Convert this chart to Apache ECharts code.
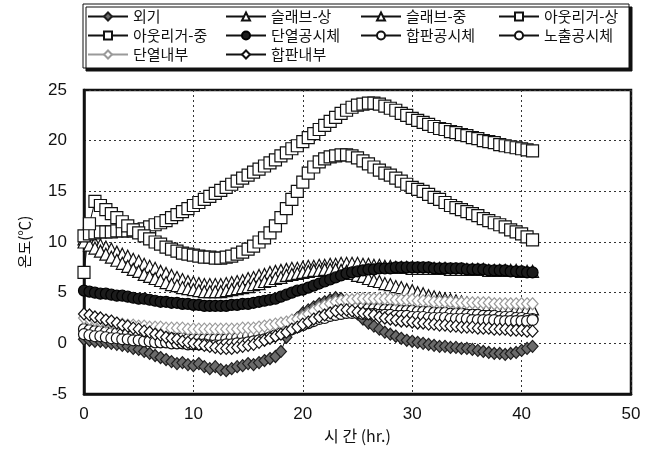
<!DOCTYPE html>
<html><head><meta charset="utf-8">
<script src="https://cdn.jsdelivr.net/npm/echarts@6/dist/echarts.min.js"></script>
<style>html,body{margin:0;padding:0;background:#fff}#c{width:656px;height:459px}</style>
</head><body><div id="c"></div>
<script>
const hours = [0,0.5,1,1.5,2,2.5,3,3.5,4,4.5,5,5.5,6,6.5,7,7.5,8,8.5,9,9.5,
  10,10.5,11,11.5,12,12.5,13,13.5,14,14.5,15,15.5,16,16.5,17,17.5,18,18.5,19,19.5,
  20,20.5,21,21.5,22,22.5,23,23.5,24,24.5,25,25.5,26,26.5,27,27.5,28,28.5,29,29.5,
  30,30.5,31,31.5,32,32.5,33,33.5,34,34.5,35,35.5,36,36.5,37,37.5,38,38.5,39,39.5,
  40,40.5,41];
const seriesNames = ['외기','슬래브-상','슬래브-중','아웃리거-상','아웃리거-중','단열공시체','합판공시체','노출공시체','단열내부','합판내부'];
const outdoor = [0.4,0.3,0.2,0.2,0.1,0.0,-0.1,-0.2,-0.3,-0.5,-0.6,-0.8,-1.0,-1.2,-1.4,-1.6,-1.8,-2.0,-1.9,-2.1,
  -2.2,-2.0,-2.3,-2.5,-2.3,-2.6,-2.7,-2.5,-2.3,-2.2,-2.0,-2.1,-1.9,-1.7,-1.5,-1.3,-0.8,0.6,1.8,2.5,
  3.0,3.3,3.6,3.9,4.1,4.3,4.5,4.4,4.1,3.5,2.9,2.4,2.0,1.7,1.4,1.1,0.9,0.7,0.5,0.3,
  0.2,0.1,0.0,-0.1,-0.2,-0.3,-0.3,-0.4,-0.4,-0.5,-0.5,-0.6,-0.7,-0.8,-0.9,-1.0,-1.0,-1.1,-1.0,-0.9,
  -0.7,-0.5,-0.3];
const slabTop = [10.3,10.1,9.9,9.7,9.5,9.3,9.0,8.8,8.6,8.3,8.1,7.8,7.6,7.4,7.1,6.9,6.7,6.5,6.3,6.1,
  6.0,5.9,5.8,5.8,5.8,5.8,5.9,6.0,6.1,6.2,6.4,6.5,6.7,6.8,7.0,7.1,7.2,7.3,7.4,7.4,
  7.5,7.6,7.6,7.7,7.7,7.8,7.8,7.9,7.9,7.9,7.9,7.8,7.8,7.7,7.7,7.6,7.6,7.5,7.5,7.5,
  7.4,7.4,7.4,7.4,7.4,7.4,7.4,7.3,7.3,7.3,7.3,7.3,7.3,7.3,7.2,7.2,7.2,7.2,7.2,7.2,
  7.1,7.1,7.1];
const slabMid = [10.0,9.7,9.4,9.1,8.8,8.5,8.2,7.9,7.6,7.3,7.1,6.8,6.6,6.4,6.2,6.0,5.8,5.7,5.5,5.4,
  5.3,5.2,5.1,5.1,5.1,5.1,5.2,5.3,5.4,5.5,5.6,5.8,5.9,6.1,6.2,6.4,6.5,6.7,6.8,6.9,
  7.0,7.1,7.2,7.2,7.3,7.3,7.3,7.2,7.1,6.9,6.7,6.6,6.4,6.2,6.1,5.9,5.8,5.6,5.5,5.3,
  5.2,5.0,4.9,4.7,4.6,4.5,4.4,4.3,4.2,4.1,4.0,3.9,3.9,3.8,3.8,3.7,3.7,3.6,3.6,3.5,
  3.5,3.5,3.4];
const outTop = [10.6,10.8,10.9,11.0,11.0,11.0,11.1,11.1,11.1,11.1,11.2,11.3,11.5,11.7,11.9,12.1,12.4,12.7,13.0,13.3,
  13.6,13.9,14.2,14.5,14.8,15.1,15.4,15.7,16.0,16.3,16.6,16.9,17.2,17.5,17.8,18.1,18.5,18.8,19.2,19.5,
  19.9,20.3,20.7,21.1,21.5,21.9,22.3,22.7,23.0,23.3,23.5,23.6,23.7,23.7,23.6,23.4,23.2,23.0,22.7,22.5,
  22.2,22.0,21.8,21.6,21.4,21.2,21.1,20.9,20.8,20.6,20.5,20.3,20.2,20.0,19.9,19.8,19.6,19.5,19.4,19.3,
  19.2,19.1,19.0];
const outMid = [7.0,11.8,14.0,13.6,13.2,12.8,12.4,12.0,11.6,11.2,10.9,10.6,10.3,10.0,9.8,9.5,9.3,9.1,8.9,8.8,
  8.7,8.6,8.5,8.5,8.4,8.4,8.5,8.6,8.8,9.0,9.3,9.6,10.0,10.4,10.9,11.6,12.4,13.3,14.2,15.0,
  15.9,16.8,17.4,17.9,18.2,18.4,18.5,18.6,18.6,18.5,18.3,18.0,17.7,17.4,17.1,16.8,16.6,16.3,16.0,15.7,
  15.4,15.2,15.0,14.7,14.4,14.2,13.9,13.6,13.4,13.2,13.0,12.8,12.6,12.3,12.1,11.9,11.7,11.5,11.2,11.0,
  10.8,10.5,10.2];
const insSpec = [5.2,5.1,5.0,4.9,4.9,4.8,4.7,4.7,4.6,4.5,4.4,4.4,4.3,4.2,4.1,4.1,4.0,4.0,3.9,3.9,
  3.8,3.8,3.7,3.7,3.7,3.7,3.7,3.8,3.8,3.9,3.9,4.0,4.1,4.2,4.3,4.4,4.6,4.8,5.0,5.2,
  5.3,5.5,5.7,5.9,6.1,6.3,6.5,6.7,6.9,7.0,7.1,7.2,7.3,7.3,7.4,7.4,7.4,7.5,7.5,7.5,
  7.5,7.5,7.5,7.5,7.4,7.4,7.4,7.4,7.4,7.4,7.3,7.3,7.3,7.3,7.2,7.2,7.2,7.2,7.1,7.1,
  7.1,7.0,7.0];
const plySpec = [1.4,1.3,1.2,1.2,1.1,1.0,1.0,0.9,0.9,0.8,0.8,0.7,0.7,0.6,0.6,0.6,0.5,0.5,0.5,0.4,
  0.4,0.4,0.4,0.4,0.4,0.4,0.4,0.5,0.5,0.6,0.7,0.8,0.9,1.0,1.2,1.4,1.6,1.8,2.0,2.2,
  2.4,2.6,2.8,2.9,3.1,3.2,3.3,3.4,3.5,3.5,3.5,3.5,3.4,3.4,3.4,3.3,3.3,3.3,3.2,3.2,
  3.2,3.1,3.1,3.1,3.0,3.0,3.0,2.9,2.9,2.9,2.8,2.8,2.8,2.7,2.7,2.7,2.6,2.6,2.6,2.5,
  2.5,2.4,2.4];
const expSpec = [0.9,0.8,0.7,0.7,0.6,0.5,0.5,0.4,0.4,0.3,0.3,0.2,0.2,0.1,0.1,0.1,0.0,0.0,0.0,-0.1,
  -0.1,-0.1,-0.1,-0.2,-0.2,-0.2,-0.1,-0.1,0.0,0.0,0.1,0.2,0.3,0.4,0.6,0.8,1.0,1.2,1.4,1.6,
  1.8,2.0,2.2,2.4,2.5,2.7,2.8,2.9,3.0,3.0,3.0,2.9,2.9,2.9,2.8,2.8,2.8,2.7,2.7,2.7,
  2.6,2.6,2.6,2.5,2.5,2.5,2.5,2.4,2.4,2.4,2.4,2.3,2.3,2.3,2.3,2.3,2.2,2.2,2.2,2.2,
  2.2,2.2,2.3];
const insIn = [2.5,2.4,2.3,2.2,2.1,2.0,1.9,1.9,1.8,1.8,1.7,1.7,1.6,1.6,1.6,1.5,1.5,1.5,1.5,1.4,
  1.4,1.4,1.4,1.4,1.4,1.4,1.4,1.4,1.4,1.5,1.5,1.5,1.6,1.7,1.8,1.9,2.0,2.1,2.3,2.4,
  2.6,2.9,3.2,3.5,3.7,3.9,4.1,4.2,4.3,4.3,4.4,4.4,4.4,4.4,4.4,4.4,4.4,4.3,4.3,4.3,
  4.3,4.2,4.2,4.2,4.1,4.1,4.1,4.1,4.0,4.0,4.0,4.0,4.0,4.0,4.0,3.9,3.9,3.9,3.9,3.9,
  3.9,3.9,3.9];
const plyIn = [2.9,2.8,2.6,2.5,2.3,2.2,2.0,1.8,1.7,1.5,1.4,1.2,1.1,0.9,0.8,0.6,0.5,0.4,0.2,0.1,
  0.0,-0.1,-0.2,-0.3,-0.4,-0.5,-0.5,-0.5,-0.4,-0.3,-0.2,-0.1,0.1,0.3,0.5,0.7,0.9,1.1,1.4,1.6,
  1.9,2.1,2.4,2.6,2.8,3.0,3.2,3.3,3.3,3.2,3.1,3.0,2.9,2.8,2.6,2.5,2.4,2.3,2.2,2.2,
  2.1,2.0,2.0,1.9,1.9,1.8,1.8,1.7,1.7,1.6,1.6,1.6,1.5,1.5,1.5,1.4,1.4,1.4,1.3,1.3,
  1.3,1.2,1.2];
const xTicks = [0,10,20,30,40,50];
const yTicks = [-5,0,5,10,15,20,25];

const allValues = [outdoor, slabTop, slabMid, outTop, outMid, insSpec, plySpec, expSpec, insIn, plyIn];
const styles = [
  {symbol:'diamond', size:[11,12], fill:'#6b6b6b', stroke:'#1e1e1e', line:'#111'},
  {symbol:'triangle', size:12, fill:'#fff', stroke:'#111', line:'#111'},
  {symbol:'triangle', size:12, fill:'#fff', stroke:'#111', line:'#111'},
  {symbol:'rect', size:12, fill:'#fff', stroke:'#111', line:'#111'},
  {symbol:'rect', size:12, fill:'#fff', stroke:'#111', line:'#111'},
  {symbol:'circle', size:11, fill:'#1c1c1c', stroke:'#000', line:'#111'},
  {symbol:'circle', size:11, fill:'#fff', stroke:'#111', line:'#111'},
  {symbol:'circle', size:11, fill:'#fff', stroke:'#111', line:'#111'},
  {symbol:'diamond', size:[11,12], fill:'#fff', stroke:'#9a9a9a', line:'#9a9a9a'},
  {symbol:'diamond', size:[11,12], fill:'#fff', stroke:'#111', line:'#111'}
];

const series = seriesNames.map((name, k) => {
  const st = styles[k];
  return {
    type: 'line', name: name,
    data: hours.map((h, i) => [h, allValues[k][i]]),
    symbol: st.symbol, symbolSize: st.size, showAllSymbol: true,
    itemStyle: {color: st.fill, borderColor: st.stroke, borderWidth: 1.2},
    lineStyle: {color: st.line, width: 1},
    emphasis: {disabled: true}, animation: false
  };
});

const legendCols = [87, 225, 360, 498];
const legendRows = [9, 28, 47];
const legends = seriesNames.map((name, k) => ({
  data: [name],
  left: legendCols[k % 4], top: legendRows[Math.floor(k / 4)], padding: 0,
  itemWidth: 40, itemHeight: 10, itemGap: 0, z: 5,
  textStyle: {fontSize: 15, color: '#111', fontFamily: '"Noto Sans CJK KR", sans-serif'}
}));

const chart = echarts.init(document.getElementById('c'), null, {renderer: 'canvas'});
chart.setOption({
  backgroundColor: '#fff',
  animation: false,
  textStyle: {fontFamily: '"Noto Sans CJK KR", "Liberation Sans", sans-serif'},
  graphic: [{
    type: 'rect', z: 1,
    shape: {x: 83, y: 4, width: 546, height: 64},
    style: {fill: '#fff', stroke: '#111', lineWidth: 1, shadowBlur: 0, shadowOffsetX: 3, shadowOffsetY: 3, shadowColor: '#111'}
  }],
  legend: legends,
  grid: {left: 84, right: 25, top: 90, bottom: 65, show: true, borderColor: '#111', borderWidth: 2.5, backgroundColor: 'transparent'},
  xAxis: {
    type: 'value', min: xTicks[0], max: xTicks[xTicks.length - 1], interval: 10,
    name: '시 간 (hr.)', nameLocation: 'middle', nameGap: 34,
    nameTextStyle: {fontSize: 16, color: '#111', fontFamily: '"Noto Sans CJK KR", sans-serif'},
    axisLine: {show: true, onZero: false, lineStyle: {color: '#111', width: 2.5}},
    axisTick: {show: false},
    axisLabel: {fontSize: 17, color: '#111', margin: 12, fontFamily: '"Liberation Sans", sans-serif'},
    splitLine: {show: true, lineStyle: {color: '#333', width: 1, type: [2, 3]}}
  },
  yAxis: {
    type: 'value', min: yTicks[0], max: yTicks[yTicks.length - 1], interval: 5,
    name: '온도(℃)', nameLocation: 'middle', nameGap: 52, nameRotate: 90,
    nameTextStyle: {fontSize: 15, color: '#111', fontFamily: '"Noto Sans CJK KR", sans-serif'},
    axisLine: {show: true, onZero: false, lineStyle: {color: '#111', width: 2.5}},
    axisTick: {show: false},
    axisLabel: {fontSize: 17, color: '#111', margin: 17, fontFamily: '"Liberation Sans", sans-serif'},
    splitLine: {show: true, lineStyle: {color: '#333', width: 1, type: [2, 3]}}
  },
  series: series
});
</script>
</body></html>
